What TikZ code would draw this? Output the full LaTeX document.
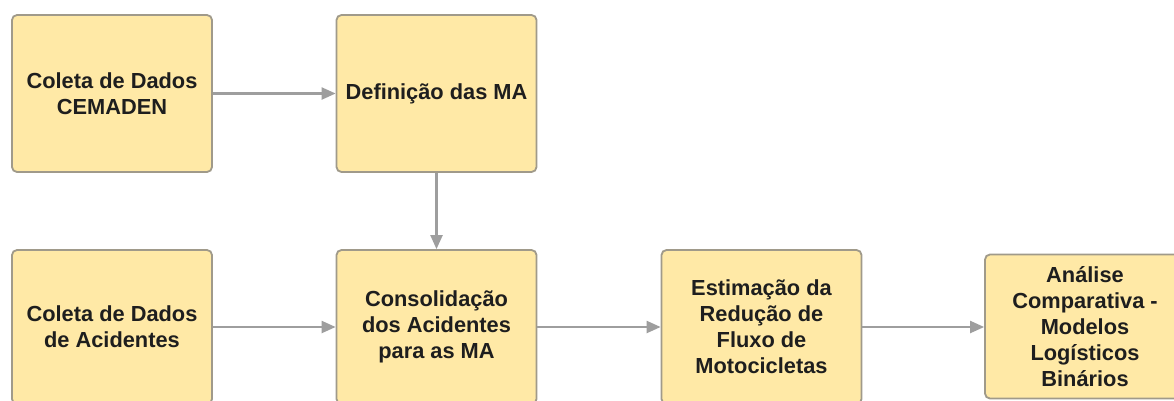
\documentclass[tikz,border=0pt]{standalone}
\usepackage{fontspec}
\setmainfont{Liberation Sans}
\usetikzlibrary{arrows.meta}
\definecolor{boxfill}{HTML}{FFE9A6}
\definecolor{boxline}{HTML}{A09A8A}
\definecolor{arrowc}{HTML}{9E9E9E}
\definecolor{txt}{HTML}{1E1E1E}
\begin{document}
\begin{tikzpicture}[x=1pt,y=-1pt,
  stepbox/.style={draw=boxline, line width=1.8pt, fill=boxfill, rounded corners=5pt,
    align=center, text=txt, font=\fontsize{21.8}{26}\selectfont\bfseries,
    inner sep=0pt, minimum width=200pt},
  flow/.style={draw=arrowc, line width=2.2pt, -{Triangle[length=14pt,width=12pt]}}]
\useasboundingbox (0,0) rectangle (1174,400);
\clip (0,0) rectangle (1174,400);
\fill[white] (0,0) rectangle (1174,400);
\node[stepbox, minimum height=157pt] (cem) at (112,93.5) {Coleta de Dados\\CEMADEN};
\node[stepbox, minimum height=157pt] (def) at (436.5,93.5) {Definição das MA};
\node[stepbox, minimum height=154pt] (aci) at (112,327) {Coleta de Dados\\de Acidentes};
\node[stepbox, minimum height=154pt] (con) at (436.5,327) {Consolidação\\dos Acidentes\\para as MA};
\node[stepbox, minimum height=154pt] (est) at (761.5,327) {Estimação da\\Redução de\\Fluxo de\\Motocicletas};
\node[stepbox, minimum height=144pt] (ana) at (1085,326.5) {Análise\\Comparativa -\\Modelos\\Logísticos\\Binários};
\draw[flow] (cem.east) -- (def.west);
\draw[flow] (def.south) -- (con.north);
\draw[flow] (aci.east) -- (con.west);
\draw[flow] (con.east) -- (est.west);
\draw[flow] (est.east) -- (ana.west |- est.east);
\end{tikzpicture}
\end{document}
